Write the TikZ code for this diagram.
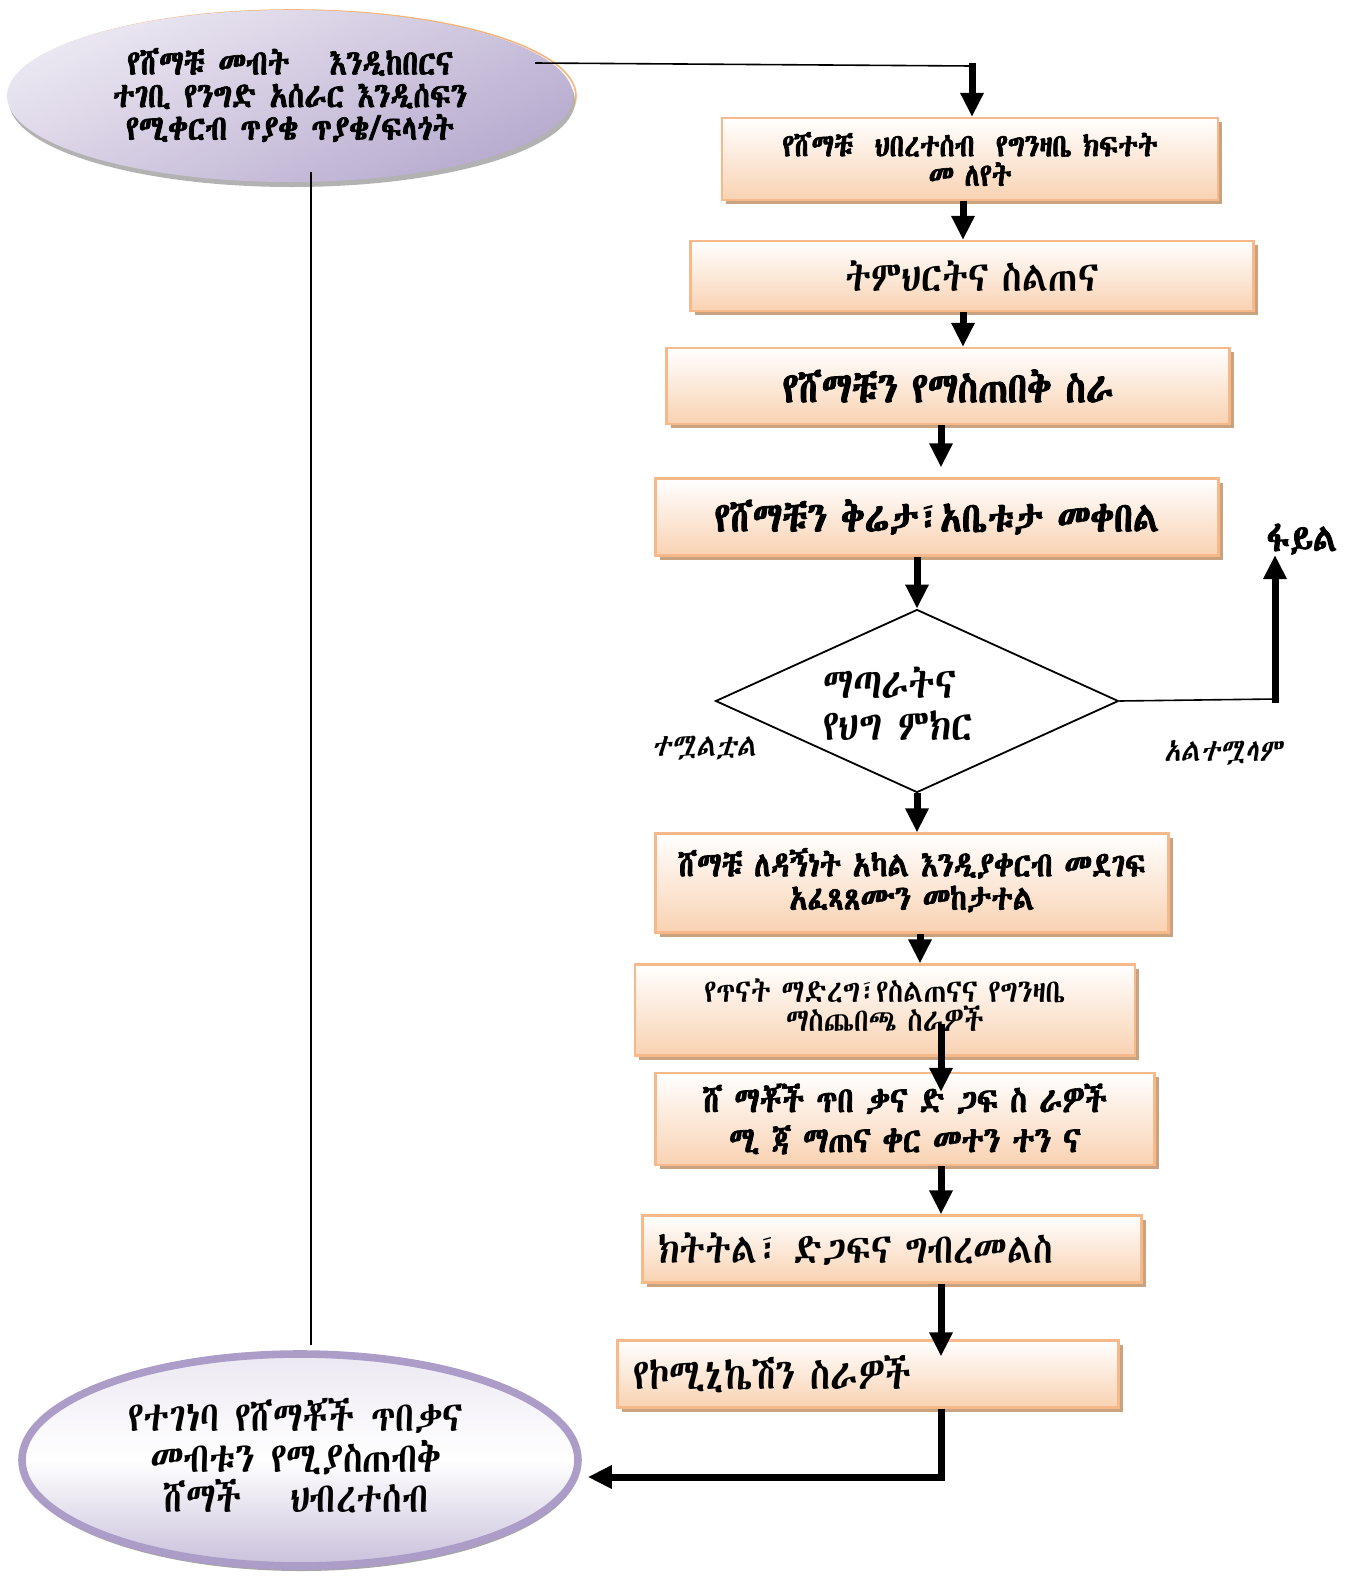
\documentclass[tikz,border=0pt]{standalone}
\usepackage{fontspec}
\usetikzlibrary{shapes.geometric,arrows.meta,shadows,calc}
\IfFontExistsTF{Abyssinica SIL}{%
  \newfontfamily\eth{Abyssinica SIL}[FakeStretch=0.85,BoldFont=Abyssinica SIL,BoldFeatures={FakeBold=2},ItalicFont=Abyssinica SIL,ItalicFeatures={FakeSlant=0.2}]}{%
 \IfFontExistsTF{FreeSerif}{%
  \newfontfamily\eth{FreeSerif}[FakeStretch=0.85,BoldFont=FreeSerif,BoldFeatures={FakeBold=2},ItalicFont=FreeSerif,ItalicFeatures={FakeSlant=0.2}]}{%
  \IfFontExistsTF{Noto Sans Ethiopic}{%
   \newfontfamily\eth{Noto Sans Ethiopic}[FakeStretch=0.85,BoldFont=Noto Sans Ethiopic,BoldFeatures={FakeBold=2},ItalicFont=Noto Sans Ethiopic,ItalicFeatures={FakeSlant=0.2}]}{%
   \IfFontExistsTF{Noto Serif Ethiopic}{%
    \newfontfamily\eth{Noto Serif Ethiopic}[FakeStretch=0.85,BoldFont=Noto Serif Ethiopic,BoldFeatures={FakeBold=2},ItalicFont=Noto Serif Ethiopic,ItalicFeatures={FakeSlant=0.2}]}{%
    \newfontfamily\eth{DejaVu Sans}[FakeStretch=0.85,BoldFont=DejaVu Sans,BoldFeatures={FakeBold=2},ItalicFont=DejaVu Sans,ItalicFeatures={FakeSlant=0.2}]}}}}
\definecolor{boxedge}{HTML}{F7B98A}
\definecolor{peach}{HTML}{F9D2B2}
\definecolor{boxshadow}{HTML}{C9A27F}
\definecolor{ellLight}{HTML}{ECE8F2}
\definecolor{ellDark}{HTML}{B7ABCF}
\definecolor{ellEdge}{HTML}{AB9CC8}
\definecolor{ellOrange}{HTML}{F4B47A}
\begin{document}
\begin{tikzpicture}[x=0.5pt,y=-0.5pt,
  stepbox/.style={draw=boxedge,line width=1.1pt,top color=white,bottom color=peach,
    drop shadow={shadow xshift=2pt,shadow yshift=-2pt,fill=boxshadow,opacity=1},
    inner xsep=8pt,inner ysep=2pt,align=center,font=\eth},
  arr/.style={line width=3.5pt,-{Triangle[width=11pt,length=12pt]}},
  thinline/.style={line width=0.8pt},
  lbl/.style={font=\eth\itshape\fontsize{15.8}{17}\selectfont}]
\useasboundingbox (0,0) rectangle (1346,1585);

% top ellipse
\node[ellipse,draw=ellOrange,line width=0.8pt,minimum width=283pt,minimum height=86pt] at (293,96) {};
\node (topell) [ellipse,minimum width=283pt,minimum height=86pt,
  top color=ellLight,bottom color=ellDark,shading angle=25,
  drop shadow={shadow xshift=1pt,shadow yshift=-2.5pt,fill=gray!60,opacity=1},
  inner sep=0pt] at (290,96) {};
\node (toptext) [align=center,font=\eth\bfseries\fontsize{17.5}{16.3}\selectfont,inner sep=0pt] at (290,95)
  {የሸማቹ መብት \ \ እንዲከበርና\\ተገቢ የንግድ አሰራር እንዲሰፍን\\የሚቀርብ ጥያቄ ጥያቄ/ፍላጎት};

% boxes
\node (box1) [stepbox,text width=232pt,minimum height=41pt,font=\eth\bfseries\fontsize{16}{14.8}\selectfont] at (970,159)
  {የሸማቹ \ ህበረተሰብ \ የግንዛቤ ክፍተት\\መ ለየት};
\node (box2) [stepbox,text width=265.5pt,minimum height=35pt,font=\eth\fontsize{21}{22}\selectfont] at (972,276)
  {ትምህርትና ስልጠና};
\node (box3) [stepbox,text width=265.5pt,minimum height=38pt,font=\eth\bfseries\fontsize{21.5}{22}\selectfont] at (948,386)
  {የሸማቹን የማስጠበቅ ስራ};
\node (box4) [stepbox,text width=265.5pt,minimum height=38.5pt,font=\eth\bfseries\fontsize{21}{22}\selectfont] at (937,517)
  {የሸማቹን ቅሬታ፣አቤቱታ መቀበል};

\node (dia) [diamond,draw,line width=0.9pt,minimum width=201.5pt,minimum height=91.5pt,aspect=2.2,inner sep=0pt] at (917,701) {};
\node (diatext) [align=left,font=\eth\fontsize{21.5}{20.7}\selectfont,inner sep=0pt] at (898,704)
  {ማጣራትና\\የህግ ምክር};

\node (box5) [stepbox,text width=240.5pt,minimum height=49.5pt,font=\eth\bfseries\fontsize{17.4}{16.7}\selectfont] at (912,883)
  {ሸማቹ ለዳኝነት አካል እንዲያቀርብ መደገፍ\\አፈጻጸሙን መከታተል\rule[-4pt]{0pt}{1pt}};
\node (box6) [stepbox,text width=234pt,minimum height=45.5pt,font=\eth\fontsize{16.2}{14.6}\selectfont] at (885,1010)
  {የጥናት ማድረግ፣የስልጠናና የግንዛቤ\\ማስጨበጫ ስራዎች\rule[-5pt]{0pt}{1pt}};
\node (box7) [stepbox,text width=233.5pt,minimum height=46pt,font=\eth\bfseries\fontsize{18}{20}\selectfont] at (905,1119)
  {ሸ ማቾች ጥበ ቃና ድ ጋፍ ስ ራዎች\\ሚ ጃ ማጠና ቀር መተን ተን ና};
\node (box8) [stepbox,text width=233.5pt,minimum height=33.5pt,align=left,font=\eth\fontsize{21}{22}\selectfont] at (892,1249)
  {ክትትል፣ ድጋፍና ግብረመልስ};
\node (box9) [stepbox,text width=234.5pt,minimum height=33.5pt,align=left,font=\eth\fontsize{21.5}{22}\selectfont] at (868,1374)
  {የኮሚኒኬሽን ስራዎች};

% bottom ellipse
\node (botell) [ellipse,draw=ellEdge,line width=3.8pt,minimum width=278pt,minimum height=106pt,
  top color=ellLight,bottom color=ellDark!75,middle color=white,
  drop shadow={shadow xshift=0.5pt,shadow yshift=-2.5pt,fill=gray!70,opacity=1},
  inner sep=0pt] at (300,1460) {};
\node (bottext) [align=center,font=\eth\fontsize{21}{20.2}\selectfont,inner sep=0pt] at (296,1456)
  {የተገነባ የሸማቾች ጥበቃና\\መብቱን የሚያስጠብቅ\\ሸማች \ \ ህብረተሰብ};

% labels
\node (file) [font=\eth\bfseries\fontsize{19.5}{21}\selectfont] at (1302,539) {ፋይል};
\node (yes) [lbl] at (704,748) {ተሟልቷል};
\node (no) [lbl] at (1223,753) {አልተሟላም};

% connectors
\coordinate (c1) at (535,63);
\coordinate (c2) at (972,66);
\coordinate (turn) at (1275,699);
\coordinate (fileend) at (1275,555);
\draw[thinline] (c1) -- (c2);
\draw[arr] ([yshift=1.5pt]c2) -- (c2 |- box1.north);
\draw[arr] ([xshift=-3.5pt]box1.south) -- ([xshift=-3.5pt]box1.south |- box2.north);
\draw[arr] ([xshift=-4.5pt]box2.south) -- ([xshift=-4.5pt]box2.south |- box3.north);
\draw[arr] ([xshift=-3.5pt]box3.south) -- ([xshift=-3.5pt,yshift=5pt]box3.south |- box4.north);
\draw[arr] (box4.south -| dia.north) -- (dia.north);
\draw[arr] (dia.south) -- (dia.south |- box5.north);
\draw[arr] ([xshift=4pt]box5.south) -- ([xshift=4pt]box5.south |- box6.north);
\draw[arr] ([xshift=28pt,yshift=16.5pt]box6.south) -- ([xshift=18pt,yshift=-10pt]box7.north);
\draw[arr] ([xshift=18pt]box7.south) -- ([xshift=18pt]box7.south |- box8.north);
\draw[arr] ([xshift=24.5pt]box8.south) -- ([xshift=24.5pt,yshift=-8.5pt]box8.south |- box9.north);
\draw[arr] ([xshift=36.5pt]box9.south) |- ([xshift=3pt,yshift=-8.5pt]botell.east);
\draw[thinline] (dia.east) -- (turn);
\draw[arr] ([yshift=-1.75pt]turn) -- (fileend);
\draw[thinline] ([xshift=10.5pt,yshift=5pt]topell.south) -- ([xshift=5.5pt,yshift=2.5pt]botell.north);
\end{tikzpicture}
\end{document}
